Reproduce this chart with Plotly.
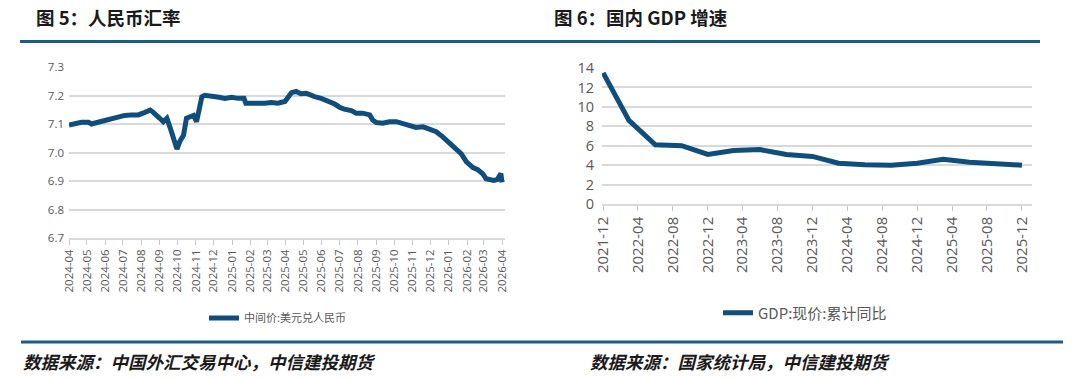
import plotly.graph_objects as go

# ---------------- Data ----------------
fx_dates = [
    "2024-04-01", "2024-04-11", "2024-04-22", "2024-05-04", "2024-05-09", "2024-05-20",
    "2024-06-01", "2024-06-12", "2024-06-23", "2024-07-04", "2024-07-16", "2024-07-27",
    "2024-08-07", "2024-08-16", "2024-08-21", "2024-08-27", "2024-09-01", "2024-09-07",
    "2024-09-13", "2024-09-18", "2024-09-24", "2024-09-30", "2024-10-05", "2024-10-11",
    "2024-10-16", "2024-10-22", "2024-10-28", "2024-11-02", "2024-11-05", "2024-11-08",
    "2024-11-11", "2024-11-16", "2024-11-27", "2024-12-03", "2024-12-10", "2024-12-20",
    "2024-12-31", "2025-01-11", "2025-01-21", "2025-01-24", "2025-02-03", "2025-02-14",
    "2025-02-25", "2025-03-08", "2025-03-19", "2025-03-31", "2025-04-05", "2025-04-11",
    "2025-04-19", "2025-04-27", "2025-05-06", "2025-05-11", "2025-05-20", "2025-05-31",
    "2025-06-11", "2025-06-23", "2025-07-01", "2025-07-09", "2025-07-21", "2025-07-29",
    "2025-08-09", "2025-08-21", "2025-08-26", "2025-09-01", "2025-09-12", "2025-09-23",
    "2025-10-05", "2025-10-16", "2025-10-27", "2025-11-07", "2025-11-19", "2025-11-30",
    "2025-12-11", "2025-12-22", "2026-01-02", "2026-01-14", "2026-01-22", "2026-01-31",
    "2026-02-11", "2026-02-19", "2026-02-28", "2026-03-05", "2026-03-10", "2026-03-18",
    "2026-03-24", "2026-03-30", "2026-04-01",
]
fx_values = [
    7.096, 7.100, 7.106, 7.106, 7.100, 7.106,
    7.113, 7.117, 7.124, 7.130, 7.132, 7.132,
    7.141, 7.149, 7.141, 7.126, 7.120, 7.108,
    7.120, 7.090, 7.050, 7.012, 7.040, 7.060,
    7.120, 7.125, 7.130, 7.108, 7.144, 7.155,
    7.196, 7.201, 7.198, 7.200, 7.194, 7.190,
    7.194, 7.190, 7.190, 7.173, 7.172, 7.172,
    7.173, 7.175, 7.173, 7.179, 7.196, 7.210,
    7.214, 7.206, 7.208, 7.202, 7.196, 7.190,
    7.182, 7.170, 7.159, 7.152, 7.147, 7.138,
    7.138, 7.132, 7.114, 7.105, 7.103, 7.108,
    7.108, 7.100, 7.093, 7.088, 7.090, 7.081,
    7.073, 7.055, 7.032, 7.011, 6.996, 6.967,
    6.947, 6.940, 6.924, 6.908, 6.905, 6.902,
    6.905, 6.926, 6.895,
]
fx_name = "中间价:美元兑人民币"

gdp_dates = [
    "2021-12-01", "2022-03-01", "2022-06-01", "2022-09-01", "2022-12-01",
    "2023-03-01", "2023-06-01", "2023-09-01", "2023-12-01", "2024-03-01",
    "2024-06-01", "2024-09-01", "2024-12-01", "2025-03-01", "2025-06-01",
    "2025-09-01", "2025-12-01",
]
gdp_values = [13.5, 8.6, 6.1, 6.0, 5.1, 5.5, 5.6, 5.1, 4.9, 4.2, 4.05, 4.0, 4.2, 4.6, 4.3, 4.1, 4.0]
gdp_name = "GDP:现价:累计同比"

title_left = "图 5：人民币汇率"
title_right = "图 6：国内 GDP 增速"
source_left = "数据来源：中国外汇交易中心，中信建投期货"
source_right = "数据来源：国家统计局，中信建投期货"

# ---------------- Styles ----------------
W, H = 1080, 380
LINE_COLOR = "#0f4d7d"
RULE_COLOR = "#1b5c8b"
GRID = "#d9d9d9"
TICK_TXT = "#595959"
FONT = "Open Sans, Noto Sans CJK SC, sans-serif"
CJK = "Noto Sans CJK SC, sans-serif"


def px(x):
    return x / W


def py(y):
    return 1 - y / H


fig = go.Figure()
fig.add_trace(go.Scatter(
    x=fx_dates, y=fx_values, mode="lines", name=fx_name,
    line=dict(color=LINE_COLOR, width=5), xaxis="x", yaxis="y", legend="legend",
))
fig.add_trace(go.Scatter(
    x=gdp_dates, y=gdp_values, mode="lines", name=gdp_name,
    line=dict(color=LINE_COLOR, width=5), xaxis="x2", yaxis="y2", legend="legend2",
))

common_x = dict(
    type="date", showgrid=False, showline=True, linecolor=GRID, linewidth=1.5,
    ticks="outside", ticklen=5, tickcolor="#c8c8c8", tickangle=-90,
    tickformat="%Y-%m", automargin=False, zeroline=False,
)
common_y = dict(
    showgrid=True, gridcolor=GRID, gridwidth=1.5, showline=False, zeroline=False,
    ticks="", automargin=False,
)

fig.update_layout(
    width=W, height=H, autosize=False,
    margin=dict(l=0, r=0, t=0, b=0),
    paper_bgcolor="white", plot_bgcolor="white",
    font=dict(family=FONT, color=TICK_TXT),
    xaxis=dict(
        common_x, domain=[px(69), px(505)], range=["2024-04-01", "2026-04-06"],
        tick0="2024-04-01", dtick="M1", anchor="y",
        tickfont=dict(size=11.5, color=TICK_TXT, family=FONT),
    ),
    yaxis=dict(
        common_y, domain=[py(238), py(67)], range=[6.7, 7.3], dtick=0.1,
        tickformat=".1f", anchor="x", ticklabelstandoff=4,
        tickfont=dict(size=11.5, color=TICK_TXT, family=FONT),
    ),
    xaxis2=dict(
        common_x, domain=[px(602), px(1032)], range=["2021-11-27", "2026-01-05"],
        tick0="2021-12-01", dtick="M4", anchor="y2",
        tickfont=dict(size=15, color=TICK_TXT, family=FONT),
    ),
    yaxis2=dict(
        common_y, domain=[py(204), py(68)], range=[0, 14], dtick=2,
        anchor="x2", ticklabelstandoff=7,
        tickfont=dict(size=14.5, color=TICK_TXT, family=FONT),
    ),
    legend=dict(
        x=px(278), y=py(318), xanchor="center", yanchor="middle",
        orientation="h", bgcolor="rgba(0,0,0,0)",
        font=dict(size=11, color=TICK_TXT, family=CJK), itemwidth=30,
    ),
    legend2=dict(
        x=px(805), y=py(313), xanchor="center", yanchor="middle",
        orientation="h", bgcolor="rgba(0,0,0,0)",
        font=dict(size=15, color=TICK_TXT, family=CJK), itemwidth=30,
    ),
    showlegend=True,
)

# header / footer rules
fig.add_shape(type="line", xref="paper", yref="paper", x0=px(20), x1=px(1040),
              y0=py(41.5), y1=py(41.5), line=dict(color=RULE_COLOR, width=3))
fig.add_shape(type="line", xref="paper", yref="paper", x0=px(21), x1=px(1063),
              y0=py(342), y1=py(342), line=dict(color=RULE_COLOR, width=3))

# titles
fig.add_annotation(text=f"<b>{title_left}</b>", x=px(34), y=py(17), xref="paper", yref="paper",
                   xanchor="left", yanchor="middle", showarrow=False,
                   font=dict(size=18.5, color="#1a1a1a", family=CJK))
fig.add_annotation(text=f"<b>{title_right}</b>", x=px(552), y=py(17), xref="paper", yref="paper",
                   xanchor="left", yanchor="middle", showarrow=False,
                   font=dict(size=18.5, color="#1a1a1a", family=CJK))

# sources
fig.add_annotation(text=f"<b><i>{source_left}</i></b>", x=px(21), y=py(361), xref="paper", yref="paper",
                   xanchor="left", yanchor="middle", showarrow=False,
                   font=dict(size=17.5, color="#1a1a1a", family=CJK))
fig.add_annotation(text=f"<b><i>{source_right}</i></b>", x=px(588), y=py(361), xref="paper", yref="paper",
                   xanchor="left", yanchor="middle", showarrow=False,
                   font=dict(size=17.5, color="#1a1a1a", family=CJK))

fig.write_html(
    "out.html",
    config={"displayModeBar": False},
    post_script="document.body.style.margin='0';document.body.style.overflow='hidden';",
)
